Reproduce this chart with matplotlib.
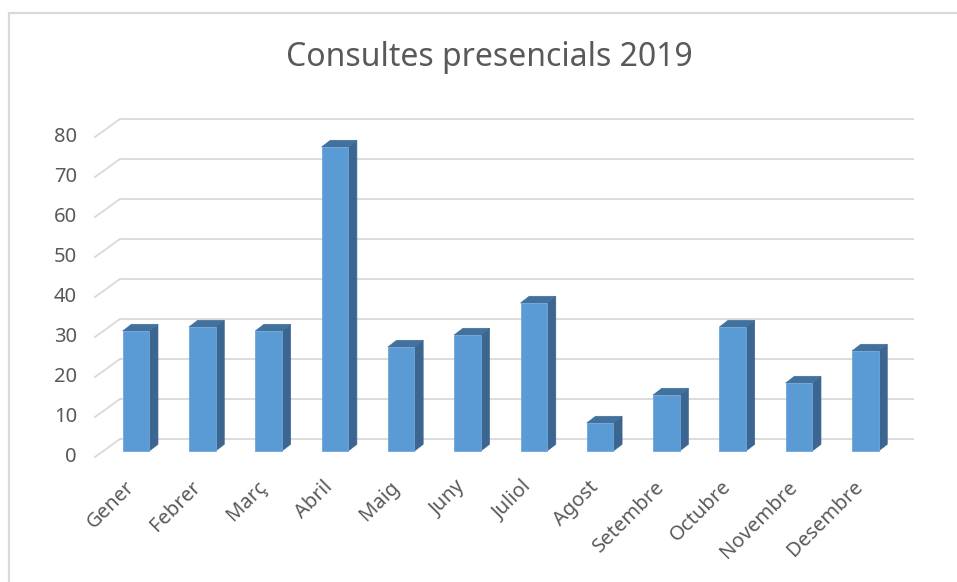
import matplotlib
matplotlib.use("Agg")
import matplotlib.pyplot as plt
from matplotlib.patches import Polygon, Rectangle

plt.rcParams['font.family'] = ['Noto Sans', 'DejaVu Sans']

months = ["Gener", "Febrer", "Març", "Abril", "Maig", "Juny", "Juliol",
          "Agost", "Setembre", "Octubre", "Novembre", "Desembre"]
values = [30, 31, 30, 76, 26, 29, 37, 7, 14, 31, 17, 25]
yticks = [0, 10, 20, 30, 40, 50, 60, 70, 80]
title = "Consultes presencials 2019"

W, H = 957, 582
fig = plt.figure(figsize=(W / 100, H / 100), dpi=100)
ax = fig.add_axes([0, 0, 1, 1])

# pixel geometry of the 3-D frame
x0_px, step_px = 136.0, 66.3     # front face centre of first bar, category step
y0_px, unit_px = 451.0, 4.0      # bar front baseline, pixels per value unit
ax.set_xlim((0 - x0_px) / step_px, (W - x0_px) / step_px)
ax.set_ylim((y0_px - H) / unit_px, y0_px / unit_px)
ax.axis('off')

def px_x(p):
    return p / step_px

def px_y(p):
    return p / unit_px

# chart border (runs off the right and bottom edges)
fig.patches.append(Rectangle((9 / W, -0.2), 1.2, (H - 13) / H + 0.2, transform=fig.transFigure,
                             fill=False, edgecolor='#D9D9D9', lw=1.6))

grid_c = '#D9D9D9'
back_left, back_right = px_x(120 - x0_px), px_x(914 - x0_px)
front_left = px_x(95 - x0_px)
back_up, front_down = px_y(12), px_y(-6)

for v in yticks:
    ax.plot([back_left, back_right], [v + back_up, v + back_up], color=grid_c, lw=1.3,
            solid_capstyle='butt', zorder=1)
    ax.plot([front_left, back_left], [v + front_down, v + back_up], color=grid_c, lw=1.3,
            zorder=1)
    ax.text(front_left - px_x(18), v + front_down, str(v), ha='right', va='center',
            fontsize=14.5, color='#595959')

# 3-D bars
bw = 0.2
ddx, ddy = px_x(8.7), px_y(6.7)
front_c, side_c, top_c = '#5B9BD5', '#3C6690', '#41719C'
for i, v in enumerate(values):
    l, r = i - bw, i + bw
    ax.add_patch(Polygon([(r, 0), (r + ddx, ddy), (r + ddx, v + ddy), (r, v)],
                         closed=True, facecolor=side_c, edgecolor=side_c, lw=0.5, zorder=3))
    ax.add_patch(Polygon([(l, v), (r, v), (r + ddx, v + ddy), (l + ddx, v + ddy)],
                         closed=True, facecolor=top_c, edgecolor=top_c, lw=0.5, zorder=3))
    ax.add_patch(Rectangle((l, 0), 2 * bw, v, facecolor=front_c, edgecolor='#6FA6DA',
                           lw=0.6, zorder=4))
    ax.text(i - px_x(5), px_y(-33), months[i], rotation=45, rotation_mode='anchor',
            ha='right', va='center', fontsize=14.5, color='#595959')

ax.text(px_x(489 - x0_px), px_y(y0_px - 58), title, ha='center', va='center',
        fontsize=23, color='#595959')

fig.savefig("out.png", dpi=100)
